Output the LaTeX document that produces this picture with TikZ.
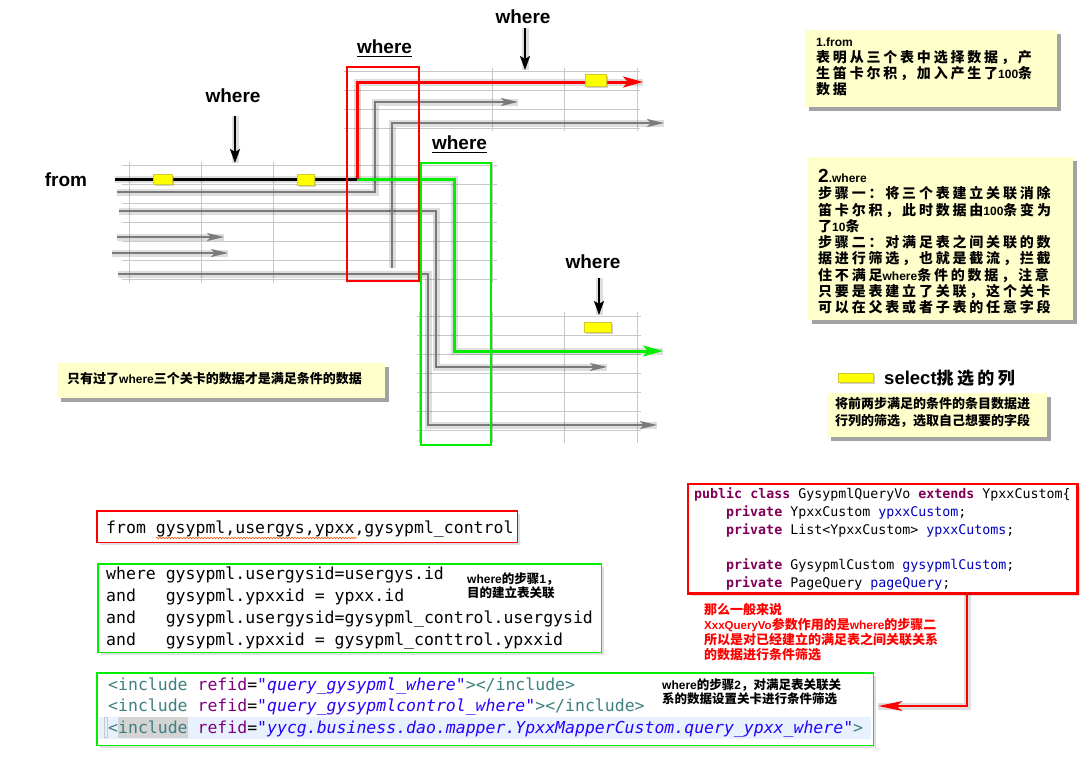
\documentclass[tikz,border=0pt]{standalone}
\usepackage{fontspec}
\setmainfont{Liberation Sans}
\newfontfamily\cjk{Noto Sans CJK SC}
\newfontfamily\cjksp{Noto Sans CJK SC}[LetterSpace=20]
\newfontfamily\code{DejaVu Sans Mono}
\usetikzlibrary{arrows.meta,shadows,decorations.pathmorphing}

\definecolor{notebg}{HTML}{FFFFCC}
\definecolor{gridc}{HTML}{C8C8C8}
\definecolor{flowgray}{HTML}{7A7A7A}
\definecolor{limegreen}{HTML}{00EE00}
\definecolor{framered}{HTML}{FF0000}
\definecolor{selyellow}{HTML}{FFFF00}
\definecolor{tagc}{HTML}{3F7F7F}
\definecolor{attrc}{HTML}{7F007F}
\definecolor{strc}{HTML}{2A00FF}
\definecolor{kwc}{HTML}{7F0055}
\definecolor{fldc}{HTML}{0000C0}
\definecolor{hlblue}{HTML}{E8F2FE}
\definecolor{hlgray}{HTML}{D4D4D4}

% syntax colouring helpers for the code snippets
\newcommand\ctag[1]{{\color{tagc}#1}}
\newcommand\cattr[1]{{\color{attrc}#1}}
\newcommand\cstr[1]{{\color{strc}\itshape #1}}
\newcommand\ckw[1]{{\color{kwc}\bfseries #1}}
\newcommand\cfld[1]{{\color{fldc}#1}}
% Latin words inside the Chinese notes
\newcommand\ltn[1]{{\rmfamily\fontsize{12}{12}\selectfont #1}}

\tikzset{
  gridline/.style={draw=gridc, line width=0.9pt},
  shadowline/.style={preaction={draw=black, arrows=-, opacity=0.13, line width=7pt}},
  flowline/.style={draw=flowgray, line width=2pt, shadowline,
      -{Stealth[length=17pt,width=8pt,inset=4pt]}},
  redflow/.style={draw=framered, line width=3pt, shadowline,
      -{Stealth[length=20pt,width=11pt,inset=5pt]}},
  greenflow/.style={draw=limegreen, line width=3pt, shadowline,
      -{Stealth[length=20pt,width=11pt,inset=5pt]}},
  wherearrow/.style={draw=black, line width=2.5pt, shadowline,
      -{Stealth[length=14pt,width=10pt,inset=3pt]}},
  biglabel/.style={font=\fontsize{19}{19}\selectfont\bfseries, inner sep=0pt},
  selmark/.style={fill=selyellow, draw=yellow!80!black, line width=0.4pt,
      drop shadow={shadow xshift=1.5pt, shadow yshift=-1.5pt, opacity=0.35}},
  notebox/.style={fill=notebg, inner sep=0pt, anchor=north west,
      drop shadow={shadow xshift=4pt, shadow yshift=-4pt, fill=black!60, opacity=0.6}},
  notetext/.style={anchor=north west, align=left, inner sep=0pt},
  codebox/.style={fill=white, inner sep=0pt, anchor=north west,
      drop shadow={shadow xshift=3pt, shadow yshift=-3pt, opacity=0.25}},
  codetext/.style={anchor=base west, inner sep=0pt, font=\code\fontsize{16.5}{20}\selectfont},
  javatext/.style={anchor=base west, inner sep=0pt, font=\code\fontsize{13.3}{16}\selectfont},
}

\begin{document}
\begin{tikzpicture}[x=1pt,y=-1pt]
\useasboundingbox (0,0) rectangle (1091,766);
\fill[white] (0,0) rectangle (1091,766);

% ---------- table grids ----------
\foreach \y in {71,90,109,128} \draw[gridline] (344,\y) -- (640,\y);
\foreach \x in {492,564,637} \draw[gridline] (\x,68) -- (\x,131);
\foreach \x in {347,419} \draw[gridline] (\x,68) -- (\x,283);
\foreach \y in {165,184,203,222,241,260,279} \draw[gridline] (122,\y) -- (497,\y);
\foreach \x in {129,201,273,492} \draw[gridline] (\x,162) -- (\x,283);
\foreach \y in {316,335,354,373,392,411,430} \draw[gridline] (417,\y) -- (641,\y);
\foreach \x in {419,492,564,637} \draw[gridline] (\x,312) -- (\x,443);

% ---------- flow lines ----------
\coordinate (a1s) at (117,192); \coordinate (a1b) at (375,192);
\coordinate (a1c) at (375,102); \coordinate (a1e) at (518,102);
\coordinate (a2s) at (119,211); \coordinate (a2b) at (436,211);
\coordinate (a2c) at (436,367); \coordinate (a2e) at (607,367);
\coordinate (a3s) at (392,268); \coordinate (a3c) at (392,123);
\coordinate (a3e) at (664,123);
\coordinate (a4s) at (118,274); \coordinate (a4b) at (428,274);
\coordinate (a4c) at (428,425); \coordinate (a4e) at (657,425);
\coordinate (s1s) at (117,237); \coordinate (s1e) at (224,237);
\coordinate (s2s) at (112,253); \coordinate (s2e) at (228,253);
\coordinate (f0) at (115,179); \coordinate (fc) at (357,179);
\coordinate (r1) at (357,82);  \coordinate (re) at (643,82);
\coordinate (g1) at (454,179); \coordinate (g2) at (454,351);
\coordinate (ge) at (663,351);

\draw[flowline] (a1s) -- (a1b) -- (a1c) -- (a1e);
\draw[flowline] (a2s) -- (a2b) -- (a2c) -- (a2e);
\draw[flowline] (a3s) -- (a3c) -- (a3e);
\draw[flowline] (a4s) -- (a4b) -- (a4c) -- (a4e);
\draw[flowline] (s1s) -- (s1e);
\draw[flowline] (s2s) -- (s2e);
\draw[greenflow] (fc) -- (g1) -- (g2) -- (ge);
\draw[redflow] (fc) -- (r1) -- (re);
\draw[draw=black, line width=3pt, shadowline] (f0) -- (fc);

% ---------- filter frames ----------
\draw[framered, line width=1.2pt] (347,67) rectangle (419,281);
\draw[limegreen, line width=1.2pt] (421,163) rectangle (491,445);

% ---------- selected columns ----------
\node[selmark, minimum width=19pt, minimum height=10pt, inner sep=0pt] (m1) at (162.5,179) {};
\node[selmark, minimum width=17pt, minimum height=11pt, inner sep=0pt] (m2) at (305.5,179.5) {};
\node[selmark, minimum width=21pt, minimum height=12pt, inner sep=0pt] (m3) at (595.5,80) {};
\node[selmark, minimum width=27pt, minimum height=10pt, inner sep=0pt] (m4) at (597.5,327) {};

% ---------- labels and pointers ----------
\node[biglabel] (fromlbl) at (66,180) {from};
\node[biglabel] (w1) at (233,96) {where};
\node[biglabel] (w2) at (523,17) {where};
\node[biglabel] (w5) at (593,262) {where};
\node[biglabel, anchor=base] (w3) at (384.5,53) {where};
\node[biglabel, anchor=base] (w4) at (459.5,149) {where};
\draw[line width=1.8pt] ([yshift=-3.5pt]w3.base west) -- ([yshift=-3.5pt]w3.base east);
\draw[line width=1.8pt] ([yshift=-3.5pt]w4.base west) -- ([yshift=-3.5pt]w4.base east);

\coordinate (p1s) at (235,116); \coordinate (p1e) at (235,163);
\coordinate (p2s) at (525,28);  \coordinate (p2e) at (525,70);
\coordinate (p3s) at (599,278); \coordinate (p3e) at (599,315);
\draw[wherearrow] (p1s) -- (p1e);
\draw[wherearrow] (p2s) -- (p2e);
\draw[wherearrow] (p3s) -- (p3e);

% ---------- notes ----------
\node[notebox, minimum width=252pt, minimum height=77pt] (n1) at (805,30) {};
\node[notetext, font=\cjksp\bfseries\fontsize{14}{16}\selectfont] (n1t) at (816,38)
  {\ltn{1.from}\\
   表明从三个表中选择数据，产\\
   生笛卡尔积，加入产生了\ltn{100}条\\
   数据};

\node[notebox, minimum width=265pt, minimum height=163pt] (n2) at (808,157) {};
\node[notetext, font=\cjksp\bfseries\fontsize{14}{16.3}\selectfont] (n2t) at (818,169)
  {{\rmfamily\fontsize{19}{19}\selectfont 2}\ltn{.where}\\
   步骤一：将三个表建立关联消除\\
   笛卡尔积，此时数据由\ltn{100}条变为\\
   了\ltn{10}条\\
   步骤二：对满足表之间关联的数\\
   据进行筛选，也就是截流，拦截\\
   住不满足\ltn{where}条件的数据，注意\\
   只要是表建立了关联，这个关卡\\
   可以在父表或者子表的任意字段};

\node[notebox, minimum width=328pt, minimum height=35pt] (n3) at (57,363) {};
\node[anchor=west, inner sep=0pt, font=\cjk\bfseries\fontsize{13}{15}\selectfont] (n3t) at (67,379)
  {只有过了\ltn{where}三个关卡的数据才是满足条件的数据};

\node[selmark, minimum width=35pt, minimum height=9pt, inner sep=0pt] (legmark) at (855.5,377.5) {};
\node[anchor=west, inner sep=0pt] (legtext) at (884,378)
  {{\fontsize{18.5}{20}\selectfont\bfseries select}{\cjksp\bfseries\fontsize{17}{20}\selectfont 挑选的列}};

\node[notebox, minimum width=220pt, minimum height=44pt] (n4) at (827,393) {};
\node[notetext, font=\cjk\bfseries\fontsize{13}{17}\selectfont] (n4t) at (835,397)
  {将前两步满足的条件的条目数据进\\
   行列的筛选，选取自己想要的字段};

% ---------- SQL snippets ----------
\node[codebox, minimum width=420pt, minimum height=31pt] (frombox) at (97,511) {};
\draw[framered, line width=1.3pt] (frombox.north west) rectangle (frombox.south east);
\node[codetext] (fromsql) at (106,533) {from gysypml,usergys,ypxx,gysypml\_control};
\draw[decorate, decoration={snake, amplitude=0.8pt, segment length=3pt},
      draw=orange!70!red, line width=0.6pt] (156,538) -- (357,538);

\node[codebox, minimum width=503pt, minimum height=88pt] (wherebox) at (98,564) {};
\draw[limegreen, line width=1.3pt] (wherebox.north west) rectangle (wherebox.south east);
\node[codetext] (wl1) at (106,579) {where gysypml.usergysid=usergys.id};
\node[codetext] (wl2) at (106,601) {and\ \ \ gysypml.ypxxid = ypxx.id};
\node[codetext] (wl3) at (106,623) {and\ \ \ gysypml.usergysid=gysypml\_control.usergysid};
\node[codetext] (wl4) at (106,645) {and\ \ \ gysypml.ypxxid = gysypml\_conttrol.ypxxid};
\node[notetext, font=\cjk\bfseries\fontsize{12.5}{13.5}\selectfont] (step1) at (467,573)
  {\ltn{where}的步骤\ltn{1}，\\目的建立表关联};

\node[codebox, minimum width=776pt, minimum height=72pt] (incbox) at (97,673) {};
\fill[hlblue] (99,716.5) rectangle (871,738.5);
\fill[hlgray] (118,717) rectangle (188,738);
\draw[gridc, line width=0.6pt] (104.5,717.5) rectangle (107.5,737.5);
\draw[limegreen, line width=1.3pt] (incbox.north west) rectangle (incbox.south east);
\node[codetext] (il1) at (108,690)
  {\ctag{<include} \cattr{refid}=\cstr{"query\_gysypml\_where"}\ctag{></include>}};
\node[codetext] (il2) at (108,711)
  {\ctag{<include} \cattr{refid}=\cstr{"query\_gysypmlcontrol\_where"}\ctag{></include>}};
\node[codetext] (il3) at (108,733)
  {\ctag{<include} \cattr{refid}=\cstr{"yycg.business.dao.mapper.YpxxMapperCustom.query\_ypxx\_where"}\ctag{>}};
\node[notetext, font=\cjk\bfseries\fontsize{12.5}{13.5}\selectfont] (step2) at (662,679)
  {\ltn{where}的步骤\ltn{2}，对满足表关联关\\系的数据设置关卡进行条件筛选};

% ---------- Java query object ----------
\node[codebox, minimum width=389pt, minimum height=109pt] (javabox) at (688,484) {};
\draw[framered, line width=2.5pt] (javabox.north west) rectangle (javabox.south east);
\node[javatext] (jl1) at (694,498)
  {\ckw{public} \ckw{class} GysypmlQueryVo \ckw{extends} YpxxCustom\{};
\node[javatext] (jl2) at (726,516) {\ckw{private} YpxxCustom \cfld{ypxxCustom};};
\node[javatext] (jl3) at (726,534) {\ckw{private} List<YpxxCustom> \cfld{ypxxCutoms};};
\node[javatext] (jl4) at (726,569) {\ckw{private} GysypmlCustom \cfld{gysypmlCustom};};
\node[javatext] (jl5) at (726,587) {\ckw{private} PageQuery \cfld{pageQuery};};

\node[notetext, text=framered, font=\cjk\bfseries\fontsize{13}{15}\selectfont] (redtext) at (704,603)
  {那么一般来说\\
   {\rmfamily\fontsize{11.5}{11.5}\selectfont XxxQueryVo}参数作用的是\ltn{where}的步骤二\\
   所以是对已经建立的满足表之间关联关系\\
   的数据进行条件筛选};

\coordinate (rc) at (967,706);
\draw[draw=framered, line width=2.2pt, shadowline, -{Stealth[length=24pt,width=10pt,inset=6pt]}]
  (javabox.south -| rc) -- (rc) -- ([xshift=5pt]incbox.east |- rc);
\end{tikzpicture}
\end{document}
